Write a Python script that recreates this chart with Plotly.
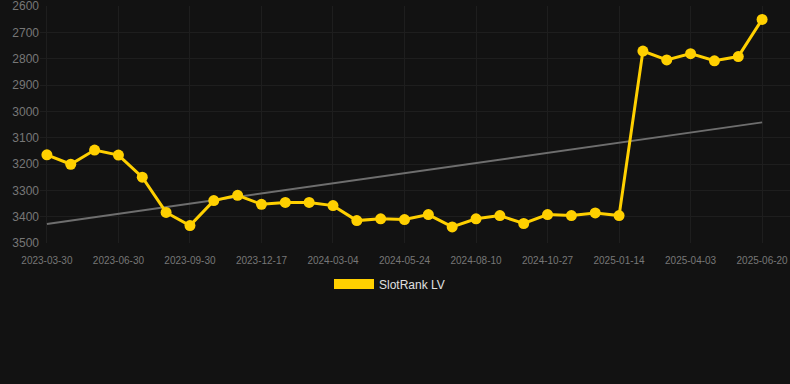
import numpy as np
import plotly.graph_objects as go

# --- data ---
tick_labels = ["2023-03-30", "2023-06-30", "2023-09-30", "2023-12-17", "2024-03-04",
               "2024-05-24", "2024-08-10", "2024-10-27", "2025-01-14", "2025-04-03",
               "2025-06-20"]
rank_values = [3165, 3201, 3147, 3166, 3250, 3384, 3434, 3339, 3319, 3353,
               3346, 3346, 3358, 3415, 3408, 3411, 3392, 3439, 3408, 3396,
               3426, 3392, 3396, 3386, 3396, 2771, 2805, 2781, 2808, 2792,
               2651]
series_name = "SlotRank LV"

# --- derived ---
x_idx = np.arange(len(rank_values))
tick_idx = x_idx[::3]
slope, intercept = np.polyfit(x_idx, rank_values, 1)
trend = slope * x_idx + intercept

GOLD = "#FFD000"
BG = "#121212"
GRID = "#1e1e1e"
TICK = "#777777"

fig = go.Figure()
fig.add_trace(go.Scatter(
    x=x_idx[[0, -1]], y=trend[[0, -1]], mode="lines",
    line=dict(color="#6e6e6e", width=2), showlegend=False, hoverinfo="skip"))
fig.add_trace(go.Scatter(
    x=x_idx, y=rank_values, mode="lines+markers",
    line=dict(color=GOLD, width=3), marker=dict(color=GOLD, size=11),
    showlegend=False, name=series_name))
fig.add_trace(go.Scatter(
    x=[None], y=[None], mode="lines", line=dict(color=GOLD, width=12),
    name=series_name, showlegend=True))

fig.update_layout(
    width=790, height=384,
    paper_bgcolor=BG, plot_bgcolor=BG,
    margin=dict(l=40, r=0, t=6, b=141, autoexpand=False),
    font=dict(family="Liberation Sans, Arial, sans-serif"),
    showlegend=True,
    legend=dict(orientation="h", x=0.466, xanchor="center", y=-0.173, yanchor="middle",
                font=dict(color="#e0e0e0", size=12), itemwidth=40,
                bgcolor="rgba(0,0,0,0)"),
    xaxis=dict(range=[-0.29, 31.17], tickmode="array", tickvals=tick_idx,
               ticktext=tick_labels, tickfont=dict(size=10, color=TICK),
               showgrid=True, gridcolor=GRID, zeroline=False, showline=False,
               ticks="", automargin=False, ticklabelstandoff=10,
               ticklabeloverflow="allow"),
    yaxis=dict(range=[3500, 2600], tickvals=list(range(2600, 3501, 100)),
               tickfont=dict(size=12, color=TICK), showgrid=True, gridcolor=GRID,
               zeroline=False, showline=False, ticks="", automargin=False,
               ticklabeloverflow="allow"),
)

fig.write_html("out.html", config={"displayModeBar": False},
               post_script="document.body.style.margin='0';document.body.style.background='#121212';")
